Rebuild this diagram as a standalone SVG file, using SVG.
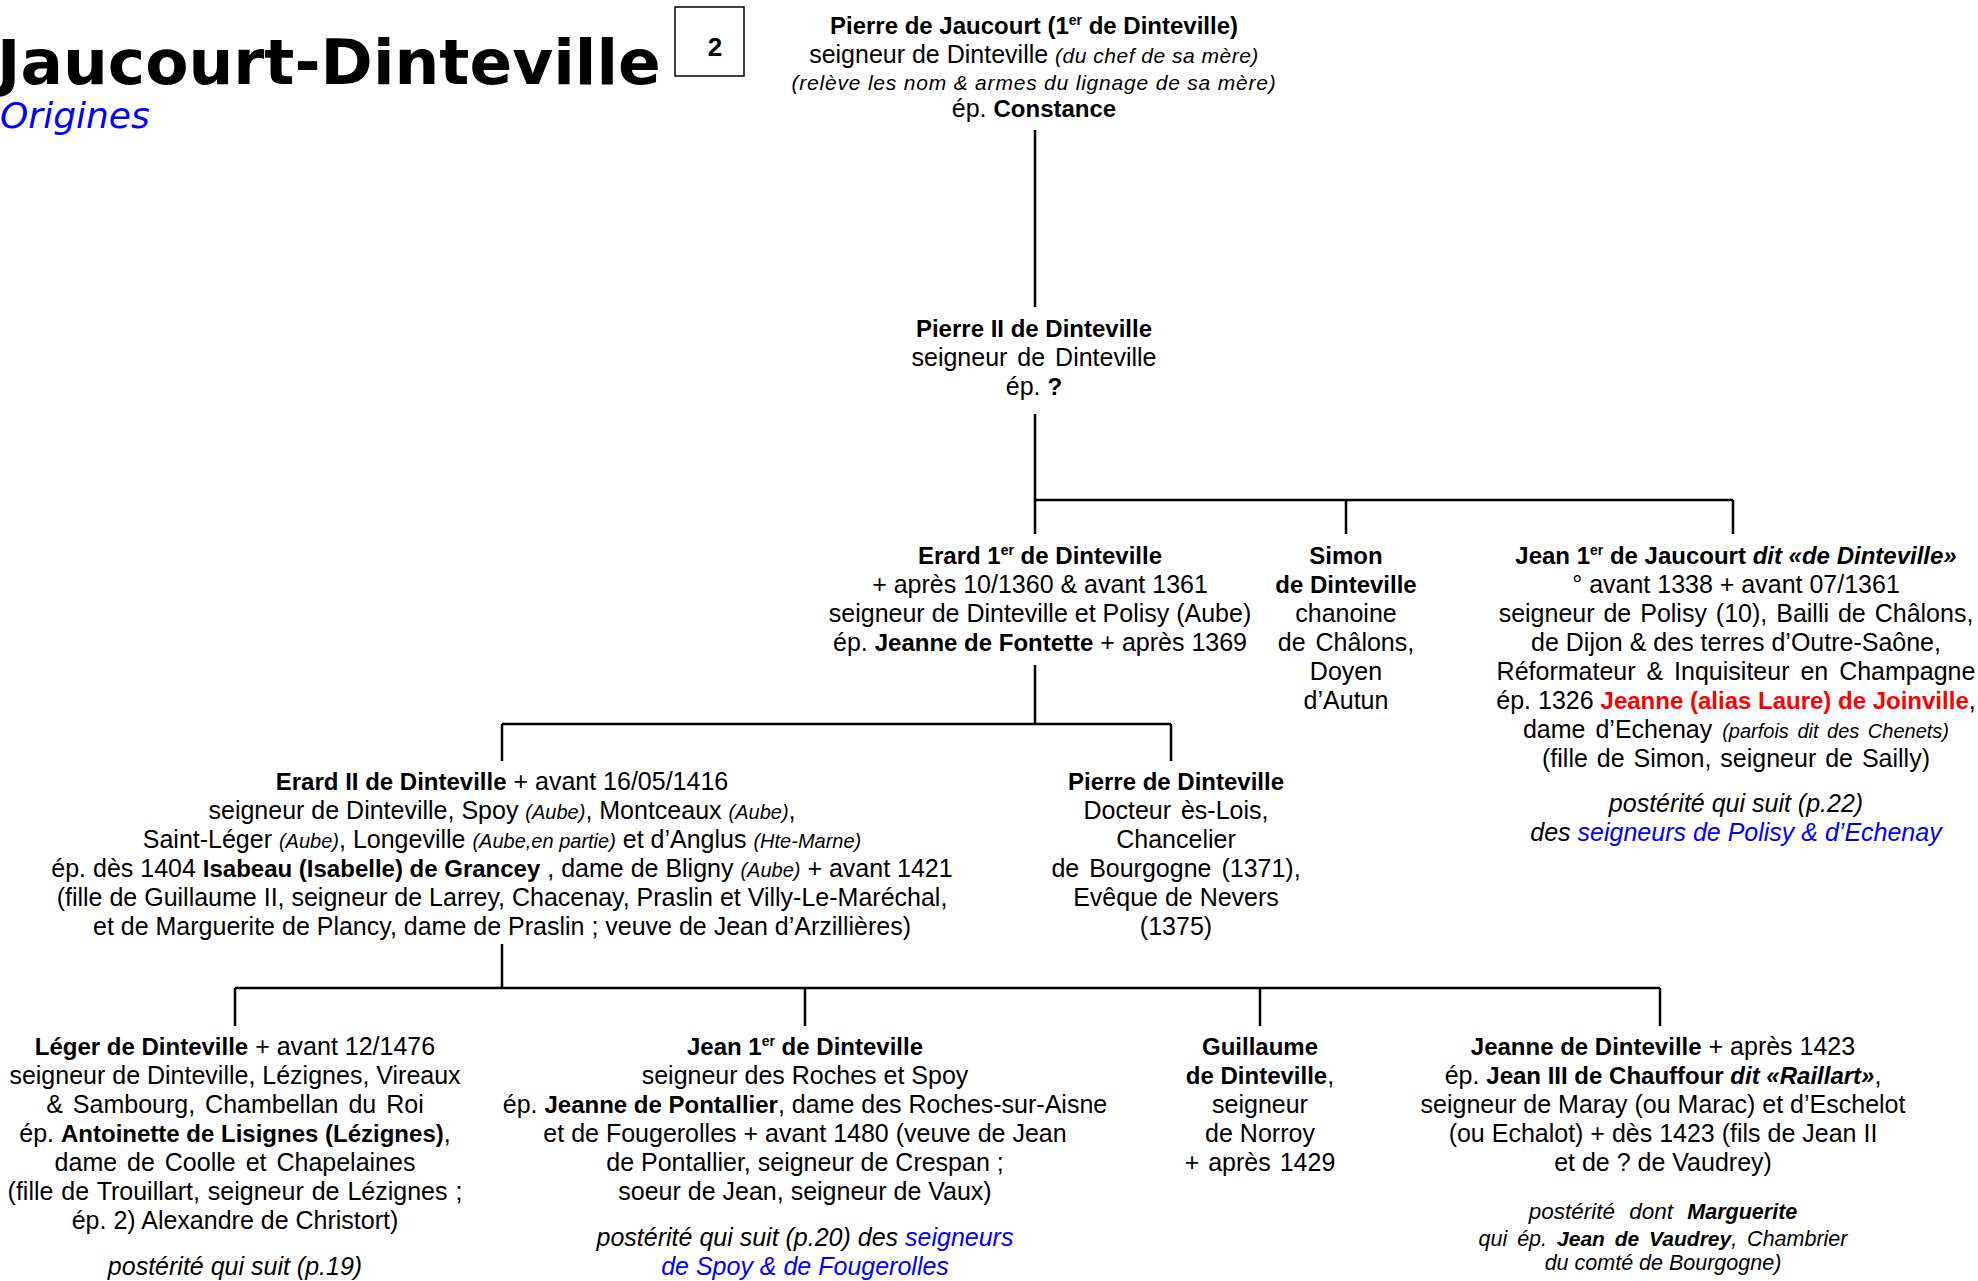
<svg xmlns="http://www.w3.org/2000/svg" width="1978" height="1281" viewBox="0 0 1978 1281">
<style>
text{font-family:"Liberation Sans",Arial,sans-serif;font-size:25px;fill:#000;text-anchor:middle}
.b{font-weight:bold;font-size:24px}
.i{font-style:italic}
.s{font-size:20px}
.sup{font-size:14px}
.blue{fill:#0000ff}
.red{fill:#ff0000;font-weight:bold;font-size:24px}
.ln{stroke:#000;stroke-width:2.5;fill:none}
</style>
<rect width="1978" height="1281" fill="#fff"/>
<g id="title">
<text x="-3" y="84" style="font-family:'DejaVu Sans',Verdana,sans-serif;font-size:63px;font-weight:bold;text-anchor:start">Jaucourt-Dinteville</text>
<text x="0" y="128" style="font-family:'DejaVu Sans',Verdana,sans-serif;font-size:36px;font-style:italic;fill:#0000ff;text-anchor:start">Origines</text>
<rect x="675" y="7" width="69" height="69" fill="none" stroke="#000" stroke-width="1.5"/>
<text x="715" y="56" class="b" style="font-size:26px">2</text>
</g>
<g id="connectors">
<path class="ln" d="M1035 130V307M1035 414V500H1733M1035 500V534M1346 500V534M1733 500V534"/>
<path class="ln" d="M1035 665V724M502 724H1171M502 724V761M1171 724V761"/>
<path class="ln" d="M502 944V988M235 988H1660M235 988V1026M805 988V1026M1260 988V1026M1660 988V1026"/>
</g>
<g id="n-pierre1">
<text x="1034" y="34" class="b">Pierre de Jaucourt (1<tspan class="sup" dy="-9">er</tspan><tspan dy="9"> de Dinteville)</tspan></text>
<text x="1034" y="63">seigneur de Dinteville <tspan class="i s" style="font-size:21px;letter-spacing:0.5px">(du chef de sa mère)</tspan></text>
<text x="1034" y="90" class="i s" style="font-size:21px;letter-spacing:0.8px">(relève les nom &amp; armes du lignage de sa mère)</text>
<text x="1034" y="117">ép. <tspan class="b">Constance</tspan></text>
</g>
<g id="n-pierre2">
<text x="1034" y="337" class="b">Pierre II de Dinteville</text>
<text x="1034" y="366" style="word-spacing:3px">seigneur de Dinteville</text>
<text x="1034" y="395">ép. <tspan class="b">?</tspan></text>
</g>
<g id="n-erard1">
<text x="1040" y="564" class="b">Erard 1<tspan class="sup" dy="-9">er</tspan><tspan dy="9"> de Dinteville</tspan></text>
<text x="1040" y="593">+ après 10/1360 &amp; avant 1361</text>
<text x="1040" y="622">seigneur de Dinteville et Polisy (Aube)</text>
<text x="1040" y="651">ép. <tspan class="b">Jeanne de Fontette</tspan> + après 1369</text>
</g>
<g id="n-simon">
<text x="1346" y="564" class="b">Simon</text>
<text x="1346" y="593" class="b">de Dinteville</text>
<text x="1346" y="622">chanoine</text>
<text x="1346" y="651" style="word-spacing:3px">de Châlons,</text>
<text x="1346" y="680">Doyen</text>
<text x="1346" y="709">d’Autun</text>
</g>
<g id="n-jean-jaucourt">
<text x="1736" y="564" class="b">Jean 1<tspan class="sup" dy="-9">er</tspan><tspan dy="9"> de Jaucourt </tspan><tspan class="i">dit «de Dinteville»</tspan></text>
<text x="1736" y="593">° avant 1338 + avant 07/1361</text>
<text x="1736" y="622" style="word-spacing:2px">seigneur de Polisy (10), Bailli de Châlons,</text>
<text x="1736" y="651">de Dijon &amp; des terres d’Outre-Saône,</text>
<text x="1736" y="680" style="word-spacing:4px">Réformateur &amp; Inquisiteur en Champagne</text>
<text x="1736" y="709">ép. 1326 <tspan class="red">Jeanne (alias Laure) de Joinville</tspan>,</text>
<text x="1736" y="738" style="word-spacing:3px">dame d’Echenay <tspan class="i s">(parfois dit des Chenets)</tspan></text>
<text x="1736" y="767" style="word-spacing:2px">(fille de Simon, seigneur de Sailly)</text>
<text x="1736" y="812" class="i">postérité qui suit (p.22)</text>
<text x="1736" y="841" class="i">des <tspan class="blue">seigneurs de Polisy &amp; d’Echenay</tspan></text>
</g>
<g id="n-erard2">
<text x="502" y="790"><tspan class="b">Erard II de Dinteville</tspan> + avant 16/05/1416</text>
<text x="502" y="819">seigneur de Dinteville, Spoy <tspan class="i s">(Aube)</tspan>, Montceaux <tspan class="i s">(Aube)</tspan>,</text>
<text x="502" y="848">Saint-Léger <tspan class="i s">(Aube)</tspan>, Longeville <tspan class="i s">(Aube,en partie)</tspan> et d’Anglus <tspan class="i s">(Hte-Marne)</tspan></text>
<text x="502" y="877">ép. dès 1404 <tspan class="b">Isabeau (Isabelle) de Grancey</tspan> , dame de Bligny <tspan class="i s">(Aube)</tspan> + avant 1421</text>
<text x="502" y="906">(fille de Guillaume II, seigneur de Larrey, Chacenay, Praslin et Villy-Le-Maréchal,</text>
<text x="502" y="935">et de Marguerite de Plancy, dame de Praslin ; veuve de Jean d’Arzillières)</text>
</g>
<g id="n-pierre-d">
<text x="1176" y="790" class="b">Pierre de Dinteville</text>
<text x="1176" y="819" style="word-spacing:3px">Docteur ès-Lois,</text>
<text x="1176" y="848">Chancelier</text>
<text x="1176" y="877" style="word-spacing:3px">de Bourgogne (1371),</text>
<text x="1176" y="906">Evêque de Nevers</text>
<text x="1176" y="935">(1375)</text>
</g>
<g id="n-leger">
<text x="235" y="1055"><tspan class="b">Léger de Dinteville</tspan> + avant 12/1476</text>
<text x="235" y="1084">seigneur de Dinteville, Lézignes, Vireaux</text>
<text x="235" y="1113" style="word-spacing:3px">&amp; Sambourg, Chambellan du Roi</text>
<text x="235" y="1142">ép. <tspan class="b">Antoinette de Lisignes (Lézignes)</tspan>,</text>
<text x="235" y="1171" style="word-spacing:3px">dame de Coolle et Chapelaines</text>
<text x="235" y="1200" style="word-spacing:1px">(fille de Trouillart, seigneur de Lézignes ;</text>
<text x="235" y="1229">ép. 2) Alexandre de Christort)</text>
<text x="235" y="1275" class="i">postérité qui suit (p.19)</text>
</g>
<g id="n-jean-d">
<text x="805" y="1055" class="b">Jean 1<tspan class="sup" dy="-9">er</tspan><tspan dy="9"> de Dinteville</tspan></text>
<text x="805" y="1084">seigneur des Roches et Spoy</text>
<text x="805" y="1113">ép. <tspan class="b">Jeanne de Pontallier</tspan>, dame des Roches-sur-Aisne</text>
<text x="805" y="1142">et de Fougerolles + avant 1480 (veuve de Jean</text>
<text x="805" y="1171">de Pontallier, seigneur de Crespan ;</text>
<text x="805" y="1200">soeur de Jean, seigneur de Vaux)</text>
<text x="805" y="1246" class="i">postérité qui suit (p.20) des <tspan class="blue">seigneurs</tspan></text>
<text x="805" y="1275" class="i blue">de Spoy &amp; de Fougerolles</text>
</g>
<g id="n-guillaume">
<text x="1260" y="1055" class="b">Guillaume</text>
<text x="1260" y="1084"><tspan class="b">de Dinteville</tspan>,</text>
<text x="1260" y="1113">seigneur</text>
<text x="1260" y="1142">de Norroy</text>
<text x="1260" y="1171" style="word-spacing:2px">+ après 1429</text>
</g>
<g id="n-jeanne">
<text x="1663" y="1055"><tspan class="b">Jeanne de Dinteville</tspan> + après 1423</text>
<text x="1663" y="1084">ép. <tspan class="b">Jean III de Chauffour <tspan class="i">dit «Raillart»</tspan></tspan>,</text>
<text x="1663" y="1113">seigneur de Maray (ou Marac) et d’Eschelot</text>
<text x="1663" y="1142">(ou Echalot) + dès 1423 (fils de Jean II</text>
<text x="1663" y="1171">et de ? de Vaudrey)</text>
<text x="1663" y="1219" class="i" style="font-size:22.5px;word-spacing:8px">postérité dont <tspan class="b" style="font-size:21.5px">Marguerite</tspan></text>
<text x="1663" y="1246" class="i" style="font-size:21.5px;word-spacing:4px">qui ép. <tspan class="b" style="font-size:21px">Jean de Vaudrey</tspan>, Chambrier</text>
<text x="1663" y="1270" class="i" style="font-size:21.5px">du comté de Bourgogne)</text>
</g>
</svg>
